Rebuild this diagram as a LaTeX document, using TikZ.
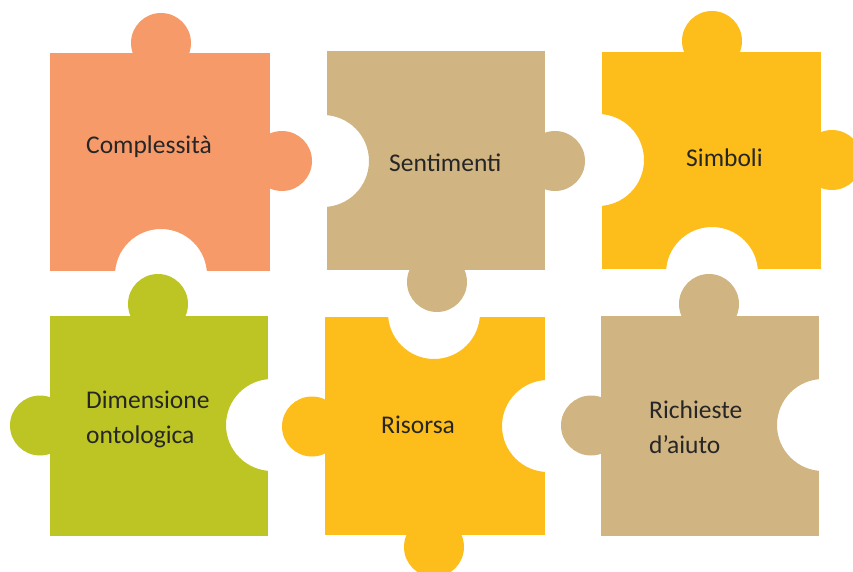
\documentclass[tikz,border=0pt]{standalone}
\usepackage{fontspec}
\setmainfont{Carlito}
\definecolor{porange}{HTML}{F79A69}
\definecolor{ptan}{HTML}{D0B482}
\definecolor{pyellow}{HTML}{FDBE1B}
\definecolor{pgreen}{HTML}{BCC523}
\definecolor{ptext}{HTML}{262626}
\begin{document}
\begin{tikzpicture}[x=1bp,y=-1bp,
  lbl/.style={font=\fontsize{25.5bp}{35bp}\selectfont, text=ptext, inner sep=0pt, align=left}]
\useasboundingbox (0,0) rectangle (853,572);
% piece 1: Complessita
\begin{scope}[even odd rule]
\clip (0,0) rectangle (853,572) (161,275) circle[radius=46bp];
\fill[porange] (50,53) rectangle (270,271);
\fill[porange] (161,43) circle[radius=30bp];
\fill[porange] (282,161) circle[radius=30bp];
\end{scope}
% piece 2: Sentimenti
\begin{scope}[even odd rule]
\clip (0,0) rectangle (853,572) (323,161) circle[radius=46bp];
\fill[ptan] (327,51) rectangle (545,270);
\fill[ptan] (555,161) circle[radius=30bp];
\fill[ptan] (437,282) circle[radius=30bp];
\end{scope}
% piece 3: Simboli
\begin{scope}[even odd rule]
\clip (0,0) rectangle (853,572) (598,160) circle[radius=46bp] (712,273) circle[radius=46bp];
\fill[pyellow] (602,52) rectangle (821,269);
\fill[pyellow] (712,41) circle[radius=30bp];
\fill[pyellow] (832,160) circle[radius=30bp];
\end{scope}
% piece 4: Dimensione ontologica
\begin{scope}[even odd rule]
\clip (0,0) rectangle (853,572) (272,425) circle[radius=46bp];
\fill[pgreen] (50,316) rectangle (268,536);
\fill[pgreen] (158,304) circle[radius=30bp];
\fill[pgreen] (40,425.5) circle[radius=30bp];
\end{scope}
% piece 5: Risorsa
\begin{scope}[even odd rule]
\clip (0,0) rectangle (853,572) (434,313) circle[radius=46bp] (548,426) circle[radius=46bp];
\fill[pyellow] (325,317) rectangle (545,535);
\fill[pyellow] (312,426.5) circle[radius=30bp];
\fill[pyellow] (434,547) circle[radius=30bp];
\end{scope}
% piece 6: Richieste d'aiuto
\begin{scope}[even odd rule]
\clip (0,0) rectangle (853,572) (823,425) circle[radius=46bp];
\fill[ptan] (601,316) rectangle (819,536);
\fill[ptan] (709,304) circle[radius=30bp];
\fill[ptan] (591,425.5) circle[radius=30bp];
\end{scope}
% labels
\node[lbl, anchor=base west] (t1) at (86,154) {Complessità};
\node[lbl, anchor=base west] (t2) at (389,172) {Sentimenti};
\node[lbl, anchor=base west] (t3) at (686,167) {Simboli};
\node[lbl, anchor=base west] (t4) at (86,443) {Dimensione\\ontologica};
\node[lbl, anchor=base west] (t5) at (381,433) {Risorsa};
\node[lbl, anchor=base west] (t6) at (649,453) {Richieste\\d’aiuto};
\end{tikzpicture}
\end{document}
